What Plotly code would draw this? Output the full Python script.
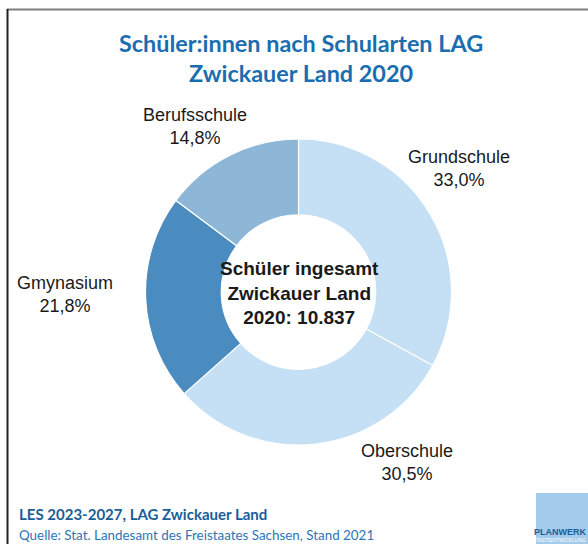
import plotly.graph_objects as go

W, H = 588, 544

categories = ["Grundschule", "Oberschule", "Gmynasium", "Berufsschule"]
shares = [33.0, 30.5, 21.8, 14.8]
colors = ["#C5E0F4", "#C5E0F4", "#4A8CC0", "#8DB6D7"]
total_text = "10.837"
year = "2020"

title_lines = ["Schüler:innen nach Schularten LAG", "Zwickauer Land 2020"]
footer_line1 = "LES 2023-2027, LAG Zwickauer Land"
footer_line2 = "Quelle: Stat. Landesamt des Freistaates Sachsen, Stand 2021"

def px(x):
    return x / W

def py(y):
    return 1 - y / H

fig = go.Figure()
fig.add_trace(go.Pie(
    labels=categories,
    values=shares,
    sort=False,
    direction="clockwise",
    rotation=0,
    hole=0.505,
    marker=dict(colors=colors, line=dict(color="white", width=1.2)),
    textinfo="none",
    hoverinfo="label+percent",
    showlegend=False,
    domain=dict(x=[px(145), px(452)], y=[py(445), py(139)]),
))

label_pos = {
    "Grundschule": (459, 168),
    "Oberschule": (407, 462),
    "Gmynasium": (65, 294),
    "Berufsschule": (195, 127),
}

annotations = []
for cat, val in zip(categories, shares):
    x, y = label_pos[cat]
    annotations.append(dict(
        x=px(x), y=py(y), xref="paper", yref="paper",
        text=f"{cat}<br>{val:.1f}".replace(".", ",") + "%",
        showarrow=False, xanchor="center", yanchor="middle",
        font=dict(family="Liberation Sans, Arial", size=18, color="#1a1a1a"),
    ))

annotations.append(dict(
    x=px(299), y=py(293), xref="paper", yref="paper",
    text=f"<b>Schüler ingesamt<br>Zwickauer Land<br>{year}: {total_text}</b>",
    showarrow=False, xanchor="center", yanchor="middle",
    font=dict(family="Liberation Sans, Arial", size=19, color="#1a1a1a"),
))

annotations.append(dict(
    x=px(301), y=py(58), xref="paper", yref="paper",
    text="<b>" + "<br>".join(title_lines) + "</b>",
    showarrow=False, xanchor="center", yanchor="middle",
    font=dict(family="Lato", size=23.4, color="#1A6DAF"),
))

annotations.append(dict(
    x=px(17), y=py(514), xref="paper", yref="paper",
    text="<b>" + footer_line1 + "</b>",
    showarrow=False, xanchor="left", yanchor="middle",
    font=dict(family="Lato", size=15, color="#1A5E96"),
))
annotations.append(dict(
    x=px(17), y=py(535), xref="paper", yref="paper",
    text=footer_line2,
    showarrow=False, xanchor="left", yanchor="middle",
    font=dict(family="Lato", size=13.4, color="#2E75B6"),
))

annotations.append(dict(
    x=px(588), y=py(532), xref="paper", yref="paper",
    text="<b>PLANWERK</b>",
    showarrow=False, xanchor="right", yanchor="middle",
    font=dict(family="Liberation Sans, Arial", size=9, color="#1A5E96"),
))
annotations.append(dict(
    x=px(588), y=py(540), xref="paper", yref="paper",
    text="STADTENTWICKLUNG",
    showarrow=False, xanchor="right", yanchor="middle",
    font=dict(family="Liberation Sans, Arial", size=5, color="#FFFFFF"),
))

shapes = [
    dict(type="line", xref="paper", yref="paper", x0=px(7), x1=1, y0=py(9.5), y1=py(9.5),
         line=dict(color="#7F7F7F", width=2)),
    dict(type="line", xref="paper", yref="paper", x0=px(7.5), x1=px(7.5), y0=py(9), y1=0,
         line=dict(color="#222222", width=2)),
    dict(type="rect", xref="paper", yref="paper", x0=px(536), x1=1, y0=0, y1=py(493),
         fillcolor="#A3CBEC", line=dict(width=0), layer="below"),
]

fig.update_layout(
    width=W, height=H,
    margin=dict(l=0, r=0, t=0, b=0),
    paper_bgcolor="white", plot_bgcolor="white",
    annotations=annotations,
    shapes=shapes,
)

fig.write_html(
    "out.html",
    config={"displayModeBar": False},
    post_script="document.body.style.margin='0';document.documentElement.style.overflow='hidden';document.body.style.overflow='hidden';",
)
